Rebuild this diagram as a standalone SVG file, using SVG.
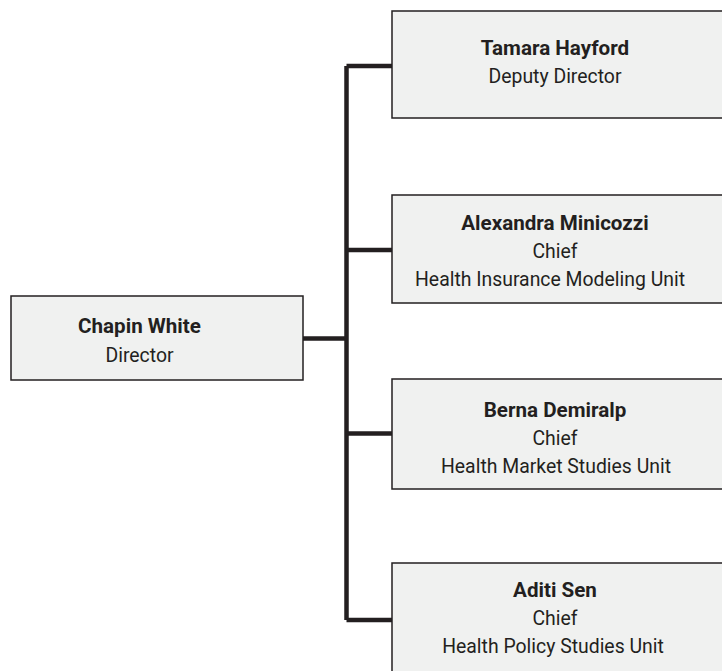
<svg xmlns="http://www.w3.org/2000/svg" width="722" height="671" viewBox="0 0 722 671">
<style>
.box{fill:#f0f1f0;stroke:#231f20;stroke-width:1.5}
.conn{fill:none;stroke:#231f20;stroke-width:4.5}
text{font-family:Roboto,"Liberation Sans",sans-serif;font-size:19.4px;fill:#231f20;text-anchor:middle}
.name{font-weight:bold;font-size:20.6px}
</style>
<rect width="722" height="671" fill="#ffffff"/>
<g id="connectors">
<path class="conn" d="M303,338.5 H346.5 M346.5,66 V620 M346.5,66 H392 M346.5,250 H392 M346.5,433.5 H392 M346.5,620 H392"/>
</g>
<g id="chapin">
<rect class="box" x="11" y="296" width="292" height="84"/>
<text class="name" x="139.5" y="333">Chapin White</text>
<text x="139.5" y="362">Director</text>
</g>
<g id="tamara">
<rect class="box" x="392" y="11" width="334" height="107"/>
<text class="name" x="555" y="55">Tamara Hayford</text>
<text x="555" y="83">Deputy Director</text>
</g>
<g id="alexandra">
<rect class="box" x="392" y="195" width="334" height="108"/>
<text class="name" x="555" y="230">Alexandra Minicozzi</text>
<text x="555" y="258">Chief</text>
<text x="550" y="286">Health Insurance Modeling Unit</text>
</g>
<g id="berna">
<rect class="box" x="392" y="379" width="334" height="110"/>
<text class="name" x="555" y="417">Berna Demiralp</text>
<text x="555" y="445">Chief</text>
<text x="556" y="473">Health Market Studies Unit</text>
</g>
<g id="aditi">
<rect class="box" x="392" y="563" width="334" height="112"/>
<text class="name" x="555" y="597">Aditi Sen</text>
<text x="555" y="625">Chief</text>
<text x="553" y="653">Health Policy Studies Unit</text>
</g>
</svg>
